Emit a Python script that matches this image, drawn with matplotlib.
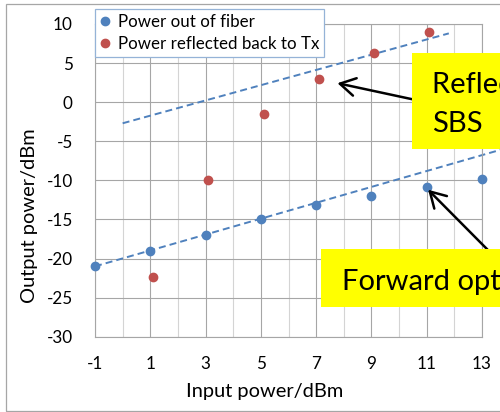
import matplotlib
matplotlib.use('Agg')
import matplotlib.pyplot as plt
import matplotlib.patches as mpatches
import matplotlib.ticker as ticker

plt.rcParams.update({
    'font.family': ['Lato', 'DejaVu Sans'],
    'font.size': 12.3,
    'axes.unicode_minus': False,
})

# --- datos ---
fiber_in = [-1, 1, 3, 5, 7, 9, 11, 13]
fiber_out = [-21.0, -19.0, -17.0, -15.0, -13.2, -12.0, -10.9, -9.8]
refl_in = [1.1, 3.1, 5.1, 7.1, 9.1, 11.1]
refl_out = [-22.3, -9.9, -1.5, 3.0, 6.3, 9.0]

# lineas de tendencia (extremos)
fiber_trend_x = [-1, 14.5]
fiber_trend_y = [-21.0, -5.25]
refl_trend_x = [0, 11.8]
refl_trend_y = [-2.7, 8.8]

x_ticks = [-1, 1, 3, 5, 7, 9, 11, 13]
y_ticks = [-30, -25, -20, -15, -10, -5, 0, 5, 10]

BLUE = '#4F81BD'
RED = '#C0504D'
W, H = 500, 412


def fx(px):
    return px / W


def fy(py):
    return 1 - py / H


fig = plt.figure(figsize=(5, 4.12), dpi=100)
ax = fig.add_axes([fx(95), fy(336.7), (482 - 95) / W, (336.7 - 24) / H])

ax.plot(fiber_trend_x, fiber_trend_y, color=BLUE, lw=1.4, dashes=(3.6, 2.1),
        clip_on=False, zorder=2)
ax.plot(refl_trend_x, refl_trend_y, color=BLUE, lw=1.4, dashes=(3.6, 2.1),
        zorder=2)
ax.plot(fiber_in, fiber_out, 'o', color=BLUE, ms=6, label='Power out of fiber',
        zorder=3, clip_on=False)
ax.plot(refl_in, refl_out, 'o', color=RED, ms=6,
        label='Power reflected back to Tx', zorder=3, clip_on=False)

ax.set_xlim(-1, 13)
ax.set_ylim(-30, 10)
ax.set_xticks(x_ticks)
ax.set_yticks(y_ticks)
ax.xaxis.set_minor_locator(ticker.FixedLocator([0, 2, 4, 6, 8, 10, 12]))
ax.grid(True, which='major', color='#A6A6A6', lw=0.8)
ax.xaxis.grid(True, which='minor', color='#D4D4D4', lw=0.8)
ax.set_axisbelow(True)
for s in ax.spines.values():
    s.set_color('#A6A6A6')
    s.set_linewidth(0.8)
ax.tick_params(axis='both', which='both', length=0)
ax.tick_params(axis='y', pad=16)
ax.tick_params(axis='x', pad=14)

ax.set_xlabel('Input power/dBm', fontsize=14.4, va='center')
ax.set_ylabel('Output power/dBm', fontsize=14.4, va='center')
ax.xaxis.set_label_coords((265 - 95) / 387, (336.7 - 392) / 312.7)
ax.yaxis.set_label_coords((30 - 95) / 387, (336.7 - 215.8) / 312.7)

leg = ax.legend(loc='upper left', bbox_to_anchor=(fx(95), fy(9)),
                bbox_transform=fig.transFigure, fontsize=12.2, frameon=True,
                fancybox=False, edgecolor='#95B3D7', framealpha=1,
                borderaxespad=0, borderpad=0.3, handlelength=0.6,
                handletextpad=0.45, labelspacing=0.35, markerscale=1.0)
leg.get_frame().set_linewidth(0.9)

# flechas
ax.annotate('', xy=(7.77, 2.43), xytext=(10.47, 0.38), annotation_clip=False,
            arrowprops=dict(arrowstyle='->,head_length=0.55,head_width=0.32',
                            mutation_scale=20, color='black', lw=1.8,
                            shrinkA=0, shrinkB=0))
ax.annotate('', xy=(11.05, -11.2), xytext=(13.2, -18.86), annotation_clip=False,
            arrowprops=dict(arrowstyle='->,head_length=0.55,head_width=0.32',
                            mutation_scale=20, color='black', lw=1.8,
                            shrinkA=0, shrinkB=0))

# cajas amarillas
fig.add_artist(mpatches.Rectangle((fx(412), fy(149.3)), (520 - 412) / W,
                                  (149.3 - 53.3) / H, transform=fig.transFigure,
                                  facecolor='#FFFF00', edgecolor='none', zorder=5))
fig.add_artist(mpatches.Rectangle((fx(321), fy(307.3)), (520 - 321) / W,
                                  (307.3 - 249.3) / H, transform=fig.transFigure,
                                  facecolor='#FFFF00', edgecolor='none', zorder=5))
fig.text(fx(431.7), fy(93), 'Reflected light due to', fontsize=21, va='baseline',
         ha='left', zorder=6)
fig.text(fx(431.7), fy(131.7), 'SBS', fontsize=21, va='baseline', ha='left',
         zorder=6)
fig.text(fx(341.7), fy(290), 'Forward optical power', fontsize=21,
         va='baseline', ha='left', zorder=6)

# borde del area del grafico
fig.add_artist(mpatches.Rectangle((fx(6), fy(410.7)), (530 - 6) / W,
                                  (410.7 - 4) / H, transform=fig.transFigure,
                                  facecolor='none', edgecolor='#A6A6A6', lw=0.9,
                                  zorder=0))

fig.savefig('out.png', dpi=100, facecolor='white')
